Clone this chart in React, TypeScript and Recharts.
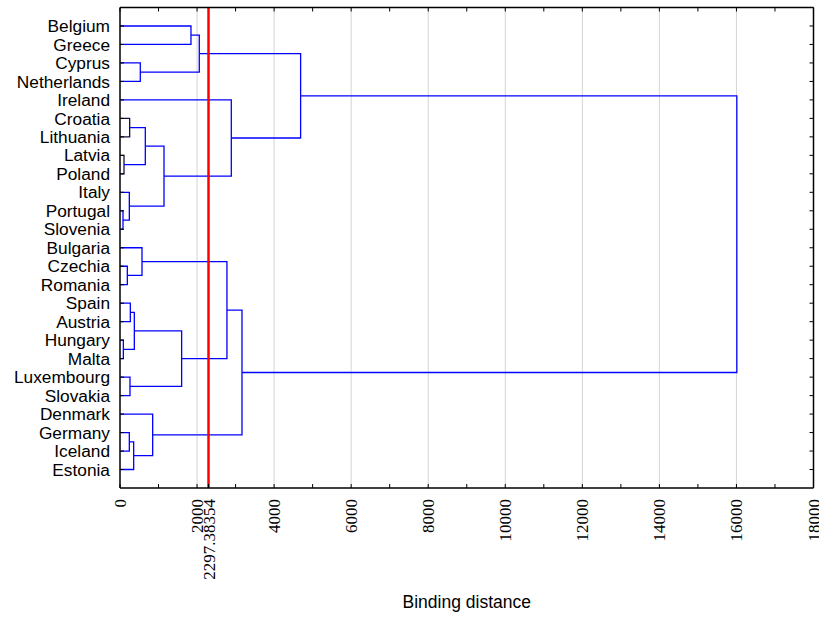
import React from 'react';
import { LineChart, Line, XAxis, YAxis, ReferenceLine } from 'recharts';

const countries = [
  'Belgium', 'Greece', 'Cyprus', 'Netherlands', 'Ireland', 'Croatia', 'Lithuania', 'Latvia',
  'Poland', 'Italy', 'Portugal', 'Slovenia', 'Bulgaria', 'Czechia', 'Romania', 'Spain',
  'Austria', 'Hungary', 'Malta', 'Luxembourg', 'Slovakia', 'Denmark', 'Germany', 'Iceland', 'Estonia',
];

// [clusterA, clusterB, binding distance]; ids >= 25 refer to earlier merges (25 = first merge)
const linkages: [number, number, number][] = [
  [10, 11, 78],
  [17, 18, 87],
  [7, 8, 104],
  [13, 14, 190],
  [9, 25, 242],
  [22, 23, 242],
  [5, 6, 251],
  [19, 20, 259],
  [15, 16, 268],
  [30, 24, 355],
  [33, 26, 372],
  [2, 3, 527],
  [12, 28, 571],
  [31, 27, 657],
  [21, 34, 848],
  [38, 29, 1142],
  [35, 32, 1600],
  [0, 1, 1842],
  [42, 36, 2058],
  [37, 41, 2776],
  [4, 40, 2889],
  [44, 39, 3166],
  [43, 45, 4688],
  [47, 46, 16010],
];

const cutoff = 2297.38354;
const minorTicks = [0, 1000, 2000, 3000, 4000, 5000, 6000, 7000, 8000, 9000, 10000, 11000, 12000, 13000, 14000, 15000, 16000, 17000, 18000];
const gridValues = [2000, 4000, 6000, 8000, 10000, 12000, 14000, 16000];

const darkLinks = new Set([2, 6]);

const rowTicks = countries.map((_, i) => i);
const bottomTicks = [...minorTicks, cutoff].sort((a, b) => a - b);

const pos: number[] = countries.map((_, i) => i);
const hgt: number[] = countries.map(() => 0);
const segments = linkages.map(([a, b, d]) => {
  const seg = [
    { x: hgt[a], y: pos[a] },
    { x: d, y: pos[a] },
    { x: d, y: pos[b] },
    { x: hgt[b], y: pos[b] },
  ];
  pos.push((pos[a] + pos[b]) / 2);
  hgt.push(d);
  return seg;
});

const SERIF = '"Liberation Serif", "Times New Roman", serif';
const SANS = '"Liberation Sans", Arial, sans-serif';

const BottomTick = (props: any) => {
  const { x, y, payload } = props;
  const v = payload.value;
  let label = '';
  if (v === cutoff) label = '2297.38354';
  else if (v % 2000 === 0) label = String(v);
  if (!label) return <g />;
  const tx = x + 6;
  return (
    <text
      x={tx}
      y={y}
      transform={`rotate(-90 ${tx} ${y})`}
      textAnchor="end"
      fill="#000"
      fontSize={17}
      fontFamily={SERIF}
    >
      {label}
    </text>
  );
};

const NoTick = () => <g />;

export default function App() {
  return (
    <div style={{ position: 'absolute', left: 0, top: 0, background: '#fff' }}>
      <LineChart width={819} height={617} margin={{ top: 6.5, right: 4.5, bottom: 0, left: 0 }}>
        <XAxis
          xAxisId="b"
          type="number"
          dataKey="x"
          orientation="bottom"
          domain={[0, 18000]}
          ticks={bottomTicks}
          interval={0}
          height={129}
          tickSize={-4}
          tickMargin={15}
          tick={<BottomTick />}
          axisLine={{ stroke: '#000', strokeWidth: 1.5 }}
          tickLine={{ stroke: '#000' }}
          allowDataOverflow
          label={{ value: 'Binding distance', position: 'insideBottom', offset: 9, fill: '#000', fontSize: 17.5, fontFamily: SANS }}
        />
        <XAxis
          xAxisId="t"
          type="number"
          dataKey="x"
          orientation="top"
          domain={[0, 18000]}
          ticks={minorTicks}
          interval={0}
          height={1}
          tickSize={-4}
          tickMargin={0}
          tick={<NoTick />}
          axisLine={{ stroke: '#000', strokeWidth: 1.5 }}
          tickLine={{ stroke: '#000' }}
          allowDataOverflow
        />
        <YAxis
          yAxisId="l"
          type="number"
          domain={[-1, 25]}
          reversed
          ticks={rowTicks}
          interval={0}
          width={120}
          tickSize={-4}
          tickMargin={14}
          tickFormatter={(v: number) => countries[v] ?? ''}
          tick={{ fill: '#000', fontSize: 17.3, fontFamily: SANS }}
          axisLine={{ stroke: '#000', strokeWidth: 1.5 }}
          tickLine={{ stroke: '#000' }}
          allowDataOverflow
        />
        <YAxis
          yAxisId="r"
          type="number"
          orientation="right"
          domain={[-1, 25]}
          reversed
          ticks={rowTicks}
          interval={0}
          width={1}
          tickSize={-4}
          tickMargin={0}
          tick={<NoTick />}
          axisLine={{ stroke: '#000', strokeWidth: 1.5 }}
          tickLine={{ stroke: '#000' }}
          allowDataOverflow
        />
        {gridValues.map((g) => (
          <ReferenceLine key={`g${g}`} xAxisId="b" yAxisId="l" x={g} stroke="#d4d4d4" strokeWidth={1} />
        ))}
        {segments.map((seg, i) => (
          <Line
            key={`s${i}`}
            xAxisId="b"
            yAxisId="l"
            data={seg}
            dataKey="y"
            type="linear"
            stroke={darkLinks.has(i) ? '#101040' : '#0000ff'}
            strokeWidth={1.3}
            dot={false}
            activeDot={false}
            isAnimationActive={false}
          />
        ))}
        <ReferenceLine xAxisId="b" yAxisId="l" x={cutoff} stroke="#ff0000" strokeWidth={2.5} />
      </LineChart>
    </div>
  );
}
